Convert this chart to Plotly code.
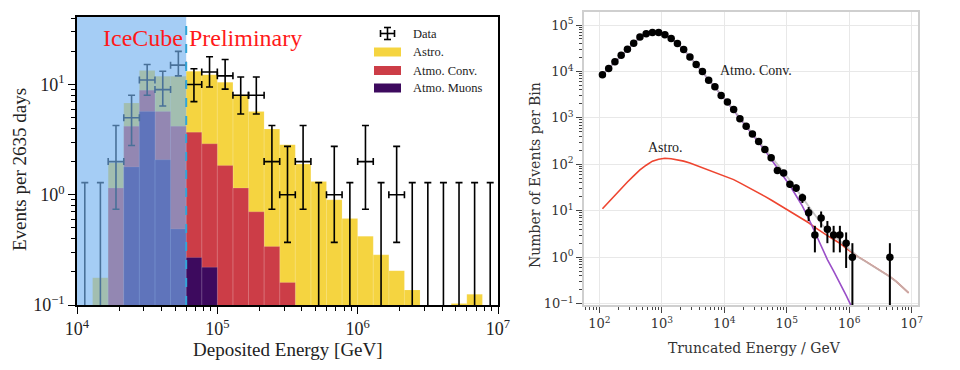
import plotly.graph_objects as go

# ---------------- Left panel: stacked histogram (9 bins per decade, 1e4 .. 1e7) ----------------
LOG_E_MIN = 4.0
BINS_PER_DECADE = 9
N_BINS = 27
E_THRESHOLD = 6e4  # 60 TeV analysis threshold

muon_counts = [0, 0, 0, 1.79, 5.7, 2.08, 0.49, 0.27, 0.22, 0, 0, 0, 0, 0,
               0, 0, 0, 0, 0, 0, 0, 0, 0, 0, 0, 0, 0]
conv_counts = [0, 0, 1.15, 2.39, 3.2, 3.62, 3.69, 3.43, 2.68, 1.84, 1.15, 0.70, 0.34, 0.16,
               0, 0, 0, 0, 0, 0, 0, 0, 0, 0, 0, 0, 0]
astro_counts = [0, 0.177, 0.8, 2.62, 4.5, 6.2, 7.72, 9.5, 9.4, 8.66, 6.95, 5.0, 3.61, 2.69,
                1.9, 1.32, 0.90, 0.61, 0.42, 0.285, 0.205, 0.137, 0, 0, 0.103, 0.125, 0]

data_counts = [0, 0, 2, 5, 11, 9, 15, 10, 13, 12, 8, 8, 2, 1, 2, 0, 1, 0, 2, 0, 1, 0, 0, 0, 0, 0, 0]
data_low = [0, 0, 0.74, 2.8, 8.0, 6.4, 12.0, 7.0, 9.5, 9.1, 5.4, 5.4, 0.74, 0.37, 0.74, 0, 0.37, 0,
            0.74, 0, 0.37, 0, 0, 0, 0, 0, 0]
data_high = [1.29, 1.29, 4.25, 8.0, 15.2, 13.2, 20.0, 13.9, 17.9, 16.9, 11.7, 11.7, 4.25, 2.75, 4.25,
             1.29, 2.75, 1.29, 4.25, 1.29, 2.75, 1.29, 1.29, 1.29, 1.29, 1.29, 1.29]

left_xticks = [1e4, 1e5, 1e6, 1e7]
left_xticktext = ["10<sup>4</sup>", "10<sup>5</sup>", "10<sup>6</sup>", "10<sup>7</sup>"]
left_yticks = [0.1, 1, 10]
left_yticktext = ["10<sup>\u22121</sup>", "10<sup>0</sup>", "10<sup>1</sup>"]

# ---------------- Right panel ----------------
right_logE = [2.05, 2.15, 2.25, 2.35, 2.45, 2.55, 2.65, 2.75, 2.85, 2.95,
              3.05, 3.15, 3.25, 3.35, 3.45, 3.55, 3.65, 3.75, 3.85, 3.95,
              4.05, 4.15, 4.25, 4.35, 4.45, 4.55, 4.65, 4.75, 4.85, 4.95,
              5.05, 5.15, 5.25, 5.35, 5.45, 5.55, 5.65, 5.75, 5.85, 5.95,
              6.05, 6.15, 6.25, 6.35, 6.45, 6.55, 6.65, 6.75, 6.85, 6.95]
data_events = [8500, 11500, 16200, 22400, 30200, 40700, 55000, 64600, 69200, 69200,
               61700, 51300, 39800, 29500, 20400, 14100, 10000, 6460, 4680, 3020,
               2190, 1510, 955, 661, 447, 309, 209, 138, 74, 65,
               37, 31, 19, 9, 3, 7, 4, 3, 3, 2,
               1, 0, 0, 0, 0, 0, 1, 0, 0, 0]
conv_model = [8500, 11700, 16200, 22400, 30200, 40700, 52500, 63100, 69200, 69200,
              61700, 51300, 39800, 29500, 20400, 14100, 9770, 6610, 4570, 3090,
              2140, 1450, 977, 661, 447, 302, 200, 129, 85, 56,
              35, 21, 12.6, 6.8, 3.5, 1.8, 0.89, 0.50, 0.28, 0.15,
              0.079, None, None, None, None, None, None, None, None, None]
astro_model = [11.0, 15.5, 21.9, 30.9, 41.7, 56.2, 75.9, 95.5, 117, 129,
               135, 132, 126, 117, 107, 95.5, 85.1, 75.9, 66.1, 58.9,
               53.7, 46.8, 39.8, 33.9, 28.8, 24.5, 20.4, 17.0, 14.1, 11.7,
               10.0, 8.3, 6.9, 5.5, 4.4, 3.5, 2.9, 2.4, 2.0, 1.55,
               1.23, 1.00, 0.83, 0.68, 0.55, 0.47, 0.38, 0.30, 0.22, 0.17]

right_xticks = [1e2, 1e3, 1e4, 1e5, 1e6, 1e7]
right_xticktext = ["10<sup>%d</sup>" % p for p in range(2, 8)]
right_yticks = [1e-1, 1e0, 1e1, 1e2, 1e3, 1e4, 1e5]
right_yticktext = ["10<sup>\u22121</sup>"] + ["10<sup>%d</sup>" % p for p in range(0, 6)]

# ---------------- colours ----------------
C_ASTRO = "#f5d440"
C_CONV = "#cc3d47"
C_MUON = "#3d0a5e"
C_OVERLAY = "rgb(114,177,239)"

W, H = 960, 370
PAGE_OFFSET = 8  # default page body margin shifts the figure by 8 px

def px_x(p):
    return (p - PAGE_OFFSET) / W
def px_y(p):
    return (H - (p - PAGE_OFFSET)) / H

fig = go.Figure()

# bin edges / centres from the binning definition
edges = [10 ** (LOG_E_MIN + k / BINS_PER_DECADE) for k in range(N_BINS + 1)]
centres = [10 ** (LOG_E_MIN + (k + 0.5) / BINS_PER_DECADE) for k in range(N_BINS)]

BASE = 1e-3  # fill floor, below visible range
cum1 = muon_counts
cum2 = [a + b for a, b in zip(muon_counts, conv_counts)]
cum3 = [a + b for a, b in zip(cum2, astro_counts)]

def bars(tops, color):
    xs, ys = [], []
    for k, t in enumerate(tops):
        if t and t > 0:
            xs += [edges[k], edges[k], edges[k + 1], edges[k + 1], edges[k], None]
            ys += [BASE, t, t, BASE, BASE, None]
    return go.Scatter(x=xs, y=ys, mode="lines", fill="toself", fillcolor=color,
                      line=dict(color="rgba(255,255,255,0.18)", width=0.8),
                      hoverinfo="skip", showlegend=False, xaxis="x", yaxis="y")

fig.add_trace(bars(cum3, C_ASTRO))
fig.add_trace(bars(cum2, C_CONV))
fig.add_trace(bars(cum1, C_MUON))

# data points (non-zero)
nz = [k for k, n in enumerate(data_counts) if n > 0]
fig.add_trace(go.Scatter(
    x=[centres[k] for k in nz], y=[data_counts[k] for k in nz], mode="markers",
    marker=dict(size=1, color="black"),
    error_y=dict(type="data", symmetric=False,
                 array=[data_high[k] - data_counts[k] for k in nz],
                 arrayminus=[data_counts[k] - data_low[k] for k in nz],
                 color="black", thickness=1.6, width=3.5),
    error_x=dict(type="data", symmetric=False,
                 array=[edges[k + 1] - centres[k] for k in nz],
                 arrayminus=[centres[k] - edges[k] for k in nz],
                 color="black", thickness=1.6, width=3.5),
    hoverinfo="skip", showlegend=False, xaxis="x", yaxis="y"))
# zero-count bins: upper limits only
zz = [k for k, n in enumerate(data_counts) if n == 0]
fig.add_trace(go.Scatter(
    x=[centres[k] for k in zz], y=[data_high[k] for k in zz], mode="markers",
    marker=dict(size=1, color="rgba(0,0,0,0)"),
    error_y=dict(type="data", symmetric=False,
                 array=[0 for k in zz],
                 arrayminus=[data_high[k] * 0.999 for k in zz],
                 color="black", thickness=1.6, width=3.5),
    hoverinfo="skip", showlegend=False, xaxis="x", yaxis="y"))

# ---- right panel traces ----
xE = [10 ** v for v in right_logE]
total_model = [(c if c is not None else 0) + a for c, a in zip(conv_model, astro_model)]
fig.add_trace(go.Scatter(x=xE, y=astro_model, mode="lines", line=dict(color="#ee4530", width=1.6),
                         hoverinfo="skip", showlegend=False, xaxis="x2", yaxis="y2"))
fig.add_trace(go.Scatter(x=xE, y=conv_model, mode="lines", line=dict(color="#9a4fc8", width=1.6),
                         hoverinfo="skip", showlegend=False, xaxis="x2", yaxis="y2"))
fig.add_trace(go.Scatter(x=xE, y=total_model, mode="lines", line=dict(color="rgba(190,188,188,0.85)", width=1.8),
                         hoverinfo="skip", showlegend=False, xaxis="x2", yaxis="y2"))
pts = [i for i, n in enumerate(data_events) if n > 0]
fig.add_trace(go.Scatter(
    x=[xE[i] for i in pts], y=[data_events[i] for i in pts], mode="markers",
    marker=dict(size=7.5, color="black"),
    error_y=dict(type="data", symmetric=False,
                 array=[data_events[i] ** 0.5 for i in pts],
                 arrayminus=[min(data_events[i] ** 0.5, data_events[i] * 0.999) for i in pts],
                 color="black", thickness=2, width=0),
    hoverinfo="skip", showlegend=False, xaxis="x2", yaxis="y2"))

SERIF = "Liberation Serif"
SERIF2 = "DejaVu Serif"

fig.update_layout(
    width=W, height=H, margin=dict(l=0, r=0, t=0, b=0, autoexpand=False),
    paper_bgcolor="white", plot_bgcolor="white", showlegend=False,
    font=dict(family=SERIF, color="black"),
    xaxis=dict(type="log", range=[4, 7], domain=[px_x(77), px_x(498)], anchor="y", automargin=False,
               tickmode="array", tickvals=left_xticks, ticktext=left_xticktext,
               ticks="outside", ticklen=7, tickwidth=1.3, tickcolor="black",
               minor=dict(dtick="D1", ticks="outside", ticklen=4, tickwidth=1, tickcolor="black", showgrid=False),
               showgrid=False, showline=True, linecolor="black", linewidth=1.5, mirror=True,
               tickfont=dict(family=SERIF, size=18, color="#222"), zeroline=False),
    yaxis=dict(type="log", range=[-1, 1.613], domain=[px_y(305), px_y(17)], anchor="x", automargin=False,
               tickmode="array", tickvals=left_yticks, ticktext=left_yticktext,
               ticks="outside", ticklen=7, tickwidth=1.3, tickcolor="black",
               minor=dict(dtick="D1", ticks="outside", ticklen=4, tickwidth=1, tickcolor="black", showgrid=False),
               showgrid=False, showline=True, linecolor="black", linewidth=1.5, mirror=True,
               tickfont=dict(family=SERIF, size=18, color="#222"), zeroline=False),
    xaxis2=dict(type="log", range=[1.755, 7.1], domain=[px_x(584), px_x(918)], anchor="y2", automargin=False,
                tickmode="array", tickvals=right_xticks, ticktext=right_xticktext,
                ticks="outside", ticklen=6, tickwidth=1.3, tickcolor="#444",
                minor=dict(dtick="D1", ticks="outside", ticklen=3, tickwidth=1, tickcolor="#444", showgrid=False),
                showgrid=True, gridcolor="#e8e8e8", gridwidth=1,
                showline=True, linecolor="#cfcfcf", linewidth=1.6, mirror=True,
                tickfont=dict(family=SERIF2, size=13, color="#333"), zeroline=False),
    yaxis2=dict(type="log", range=[-1.03, 5.28], domain=[px_y(305), px_y(12)], anchor="x2", automargin=False,
                tickmode="array", tickvals=right_yticks, ticktext=right_yticktext,
                ticks="outside", ticklen=6, tickwidth=1.3, tickcolor="#444",
                minor=dict(dtick="D1", ticks="outside", ticklen=3, tickwidth=1, tickcolor="#444", showgrid=False),
                showgrid=True, gridcolor="#e8e8e8", gridwidth=1,
                showline=True, linecolor="#cfcfcf", linewidth=1.6, mirror=True,
                tickfont=dict(family=SERIF2, size=13, color="#333"), zeroline=False),
)

shapes = [
    dict(type="rect", xref="x", yref="y domain", x0=edges[0], x1=E_THRESHOLD, y0=0, y1=1,
         fillcolor=C_OVERLAY, opacity=0.64, line=dict(width=0), layer="above"),
    dict(type="line", xref="x", yref="y domain", x0=E_THRESHOLD, x1=E_THRESHOLD, y0=0, y1=1,
         line=dict(color="rgb(50,165,215)", width=2, dash="dash"), layer="above"),
]

# manual legend (left panel)
leg_x0, leg_x1 = 374, 401
leg_rows = [(52, C_ASTRO, "Astro."), (70.5, C_CONV, "Atmo. Conv."), (88, C_MUON, "Atmo. Muons")]
annotations = []
for yc, col, txt in leg_rows:
    shapes.append(dict(type="rect", xref="paper", yref="paper", x0=px_x(leg_x0), x1=px_x(leg_x1),
                       y0=px_y(yc + 4.5), y1=px_y(yc - 4.5), fillcolor=col, line=dict(width=0)))
    annotations.append(dict(xref="paper", yref="paper", x=px_x(411), y=px_y(yc), text=txt,
                            showarrow=False, xanchor="left", yanchor="middle",
                            font=dict(family=SERIF, size=12.5, color="#222")))
# Data glyph
gx, gy = 387.5, 33.5
for seg in [(gx, gy - 6, gx, gy + 6), (gx - 7, gy, gx + 7, gy),
            (gx - 3.5, gy - 6, gx + 3.5, gy - 6), (gx - 3.5, gy + 6, gx + 3.5, gy + 6),
            (gx - 7, gy - 3.5, gx - 7, gy + 3.5), (gx + 7, gy - 3.5, gx + 7, gy + 3.5)]:
    shapes.append(dict(type="line", xref="paper", yref="paper",
                       x0=px_x(seg[0]), x1=px_x(seg[2]), y0=px_y(seg[1]), y1=px_y(seg[3]),
                       line=dict(color="black", width=1.6)))
annotations.append(dict(xref="paper", yref="paper", x=px_x(411), y=px_y(34), text="Data",
                        showarrow=False, xanchor="left", yanchor="middle",
                        font=dict(family=SERIF, size=12.5, color="#222")))

# IceCube Preliminary
annotations.append(dict(xref="paper", yref="paper", x=px_x(101), y=px_y(38), text="IceCube Preliminary",
                        showarrow=False, xanchor="left", yanchor="middle",
                        font=dict(family=SERIF, size=24, color="#ff1a1a")))
# axis titles
annotations.append(dict(xref="paper", yref="paper", x=px_x(288), y=px_y(349), text="Deposited Energy [GeV]",
                        showarrow=False, xanchor="center", yanchor="middle",
                        font=dict(family=SERIF, size=19, color="#222")))
annotations.append(dict(xref="paper", yref="paper", x=px_x(19), y=px_y(170), text="Events per 2635 days",
                        showarrow=False, textangle=-90, xanchor="center", yanchor="middle",
                        font=dict(family=SERIF, size=19, color="#222")))
annotations.append(dict(xref="paper", yref="paper", x=px_x(754), y=px_y(348), text="Truncated Energy / GeV",
                        showarrow=False, xanchor="center", yanchor="middle",
                        font=dict(family=SERIF2, size=14, color="#333")))
annotations.append(dict(xref="paper", yref="paper", x=px_x(535), y=px_y(175), text="Number of Events per Bin",
                        showarrow=False, textangle=-90, xanchor="center", yanchor="middle",
                        font=dict(family=SERIF2, size=14, color="#333")))
# curve labels (right panel), log coordinates for annotations on log axes
annotations.append(dict(xref="x2", yref="y2", x=3.9, y=4.02, text="Atmo. Conv.", showarrow=False,
                        xanchor="left", yanchor="middle", font=dict(family=SERIF, size=14, color="#222")))
annotations.append(dict(xref="x2", yref="y2", x=3.06, y=2.36, text="Astro.", showarrow=False,
                        xanchor="center", yanchor="middle", font=dict(family=SERIF, size=14, color="#222")))

fig.update_layout(shapes=shapes, annotations=annotations)
fig.write_html("out.html")
